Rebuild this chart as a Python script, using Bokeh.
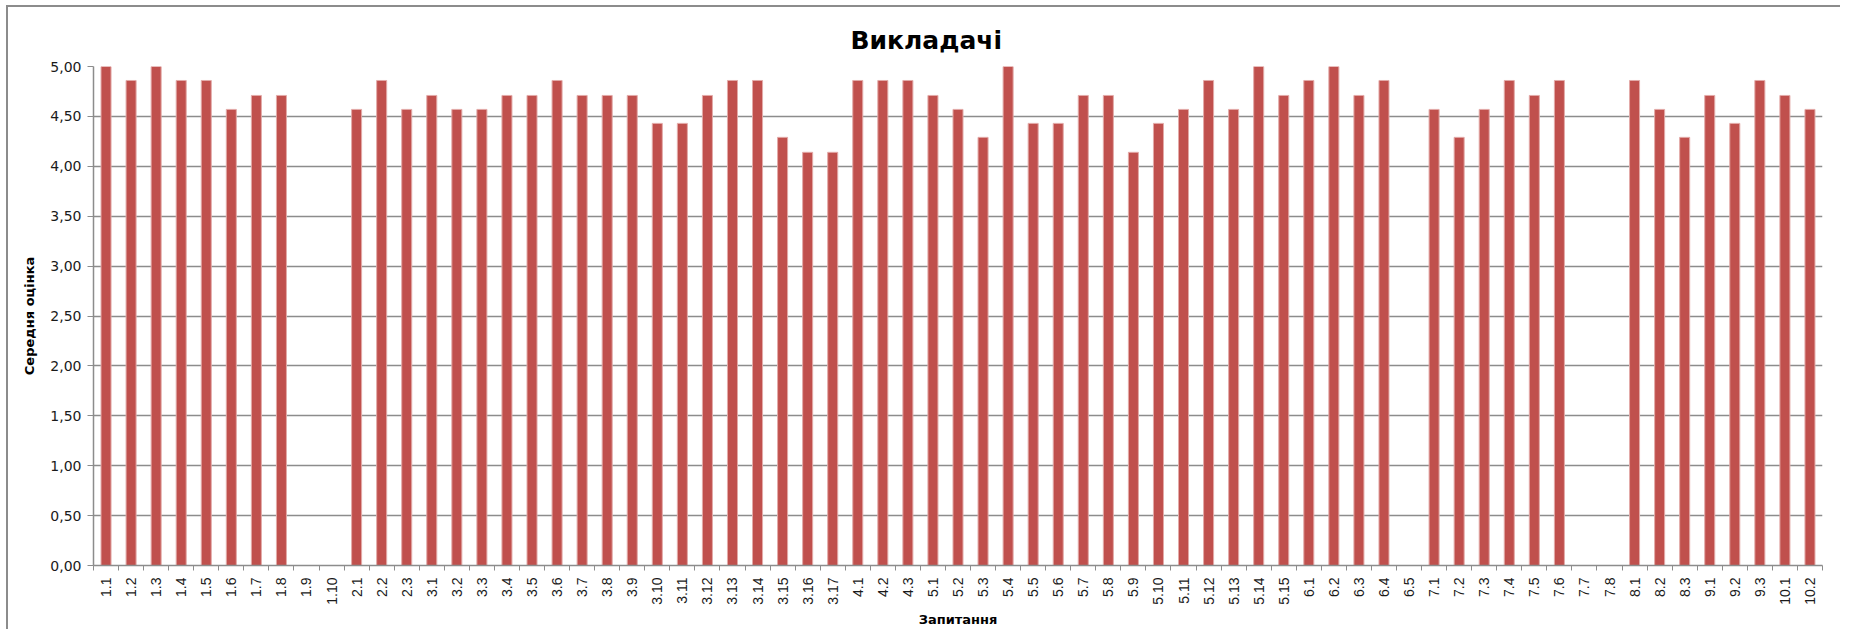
import math
from bokeh.plotting import figure
from bokeh.models import Range1d, FixedTicker, ColumnDataSource
from bokeh.embed import file_html
from bokeh.resources import INLINE

questions = ["1.1", "1.2", "1.3", "1.4", "1.5", "1.6", "1.7", "1.8", "1.9", "1.10",
             "2.1", "2.2", "2.3",
             "3.1", "3.2", "3.3", "3.4", "3.5", "3.6", "3.7", "3.8", "3.9", "3.10",
             "3.11", "3.12", "3.13", "3.14", "3.15", "3.16", "3.17",
             "4.1", "4.2", "4.3",
             "5.1", "5.2", "5.3", "5.4", "5.5", "5.6", "5.7", "5.8", "5.9", "5.10",
             "5.11", "5.12", "5.13", "5.14", "5.15",
             "6.1", "6.2", "6.3", "6.4", "6.5",
             "7.1", "7.2", "7.3", "7.4", "7.5", "7.6", "7.7", "7.8",
             "8.1", "8.2", "8.3",
             "9.1", "9.2", "9.3",
             "10.1", "10.2"]

scores = [5.00, 4.86, 5.00, 4.86, 4.86, 4.57, 4.71, 4.71, None, None,
          4.57, 4.86, 4.57,
          4.71, 4.57, 4.57, 4.71, 4.71, 4.86, 4.71, 4.71, 4.71, 4.43,
          4.43, 4.71, 4.86, 4.86, 4.29, 4.14, 4.14,
          4.86, 4.86, 4.86,
          4.71, 4.57, 4.29, 5.00, 4.43, 4.43, 4.71, 4.71, 4.14, 4.43,
          4.57, 4.86, 4.57, 5.00, 4.71,
          4.86, 5.00, 4.71, 4.86, None,
          4.57, 4.29, 4.57, 4.86, 4.71, 4.86, None, None,
          4.86, 4.57, 4.29,
          4.71, 4.43, 4.86,
          4.71, 4.57]

y_ticks = [0.0, 0.5, 1.0, 1.5, 2.0, 2.5, 3.0, 3.5, 4.0, 4.5, 5.0]

title_text = "Викладачі"
x_title = "Запитання"
y_title = "Середня оцінка"

n = len(questions)
centers = [i + 0.5 for i in range(n)]
xs = [c for c, v in zip(centers, scores) if v is not None]
tops = [v for v in scores if v is not None]
src = ColumnDataSource(dict(x=xs, top=tops))

p = figure(frame_width=1729, frame_height=499, output_backend="svg", toolbar_location=None,
           x_range=Range1d(0, n), y_range=Range1d(0, 5),
           min_border_left=85, min_border_right=18, min_border_top=59, min_border_bottom=54,
           title=title_text)
p.styles = {"border-top": "2px solid #8c8c8c", "border-left": "2px solid #8c8c8c",
            "margin-left": "6px", "margin-top": "5px"}
p.outline_line_color = None

p.title.align = "left"
p.title.offset = 757
p.title.text_font = "DejaVu Sans"
p.title.text_font_size = "25px"
p.title.text_font_style = "bold"
p.title.text_color = "#000000"
p.title.standoff = 23

p.vbar(x="x", top="top", width=0.4, bottom=0, source=src,
       fill_color="#C0504D", line_color="#E3AAA8", line_width=1)

# x axis
xa = p.xaxis[0]
xa.ticker = FixedTicker(ticks=centers, minor_ticks=list(range(n + 1)))
xa.major_label_overrides = {c: q for c, q in zip(centers, questions)}
xa.major_label_orientation = math.pi / 2
xa.major_tick_out = 0
xa.major_tick_in = 0
xa.minor_tick_out = 5
xa.minor_tick_in = 0
xa.minor_tick_line_color = "#8c8c8c"
xa.axis_line_color = "#8c8c8c"
xa.axis_line_width = 1.5
xa.major_label_text_font = "Liberation Sans"
xa.major_label_text_font_size = "14px"
xa.major_label_text_color = "#1a1a1a"
xa.major_label_standoff = 7
xa.axis_label = x_title
xa.axis_label_text_font = "DejaVu Sans"
xa.axis_label_text_font_style = "bold"
xa.axis_label_text_font_size = "13px"
xa.axis_label_text_color = "#000000"
xa.axis_label_standoff = 4

# y axis
ya = p.yaxis[0]
ya.ticker = FixedTicker(ticks=y_ticks, minor_ticks=[])
ya.major_label_overrides = {t: f"{t:.2f}".replace(".", ",") for t in y_ticks}
ya.major_tick_out = 6
ya.major_tick_in = 0
ya.minor_tick_line_color = None
ya.major_tick_line_color = "#8c8c8c"
ya.axis_line_color = "#8c8c8c"
ya.axis_line_width = 1.5
ya.major_label_text_font = "DejaVu Sans"
ya.major_label_text_font_size = "14px"
ya.major_label_text_color = "#1a1a1a"
ya.major_label_standoff = 6
ya.axis_label = y_title
ya.axis_label_text_font = "DejaVu Sans"
ya.axis_label_text_font_style = "bold"
ya.axis_label_text_font_size = "13px"
ya.axis_label_text_color = "#000000"
ya.axis_label_standoff = 10

p.xgrid.grid_line_color = None
p.ygrid.ticker = FixedTicker(ticks=y_ticks[1:])
p.ygrid.grid_line_color = "#8c8c8c"
p.ygrid.grid_line_width = 1.5

open("out.html", "w").write(file_html(p, INLINE))
